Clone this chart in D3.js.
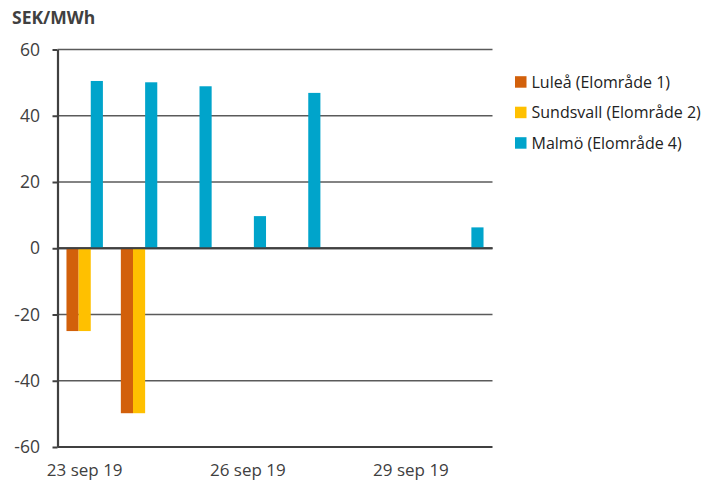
<!DOCTYPE html>
<html>
<head>
<meta charset="utf-8">
<script src="https://cdn.jsdelivr.net/npm/d3@7/dist/d3.min.js"></script>
<style>
  html, body { margin: 0; padding: 0; background: #ffffff; }
  svg { display: block; font-family: "Open Sans", "Liberation Sans", sans-serif; }
</style>
</head>
<body>
<svg id="chart" width="710" height="484"></svg>
<script>
// Daily price differences, SEK/MWh, week of 23–30 Sep 2019
const days = ["23 sep 19", "24 sep 19", "25 sep 19", "26 sep 19",
              "27 sep 19", "28 sep 19", "29 sep 19", "30 sep 19"];
const dayTicks = ["23 sep 19", "26 sep 19", "29 sep 19"];
const seriesNames = ["Luleå (Elområde 1)", "Sundsvall (Elområde 2)", "Malmö (Elområde 4)"];
const lulea     = [-25, -49.8, 0, 0, 0, 0, 0, 0];
const sundsvall = [-25, -49.8, 0, 0, 0, 0, 0, 0];
const malmo     = [50.5, 50.1, 48.9, 9.7, 46.9, 0, 0, 6.3];
const yTicks = [60, 40, 20, 0, -20, -40, -60];
const unitLabel = "SEK/MWh";

const seriesValues = [lulea, sundsvall, malmo];
const colors = ["#D2600B", "#FFC000", "#00A4CB"];
const textColor = "#404040";

const svg = d3.select("#chart");
const plot = { left: 57.5, right: 492.5, top: 49.5, bottom: 447 };

const x0 = d3.scaleBand()
  .domain(days)
  .range([plot.left, plot.right])
  .paddingInner(0.33)
  .paddingOuter(0.165);

const x1 = d3.scaleBand()
  .domain(seriesNames)
  .range([0, x0.bandwidth()]);

const y = d3.scaleLinear()
  .domain([-60, 60])
  .range([plot.bottom, plot.top]);

const color = d3.scaleOrdinal().domain(seriesNames).range(colors);

// horizontal gridlines
svg.append("g")
  .selectAll("line")
  .data(yTicks)
  .join("line")
  .attr("x1", plot.left)
  .attr("x2", plot.right)
  .attr("y1", d => y(d))
  .attr("y2", d => y(d))
  .attr("stroke", d => (d === 0 || d === -60) ? "#404040" : "#5a5a5a")
  .attr("stroke-width", d => (d === 0 || d === -60) ? 2.2 : 1.3);

// bars
const rows = days.map((day, i) => ({
  day,
  values: seriesNames.map((name, s) => ({ name, value: seriesValues[s][i] }))
}));

svg.append("g")
  .selectAll("g")
  .data(rows)
  .join("g")
  .attr("transform", d => `translate(${x0(d.day)},0)`)
  .selectAll("rect")
  .data(d => d.values.filter(v => v.value !== 0))
  .join("rect")
  .attr("x", d => x1(d.name))
  .attr("width", x1.bandwidth())
  .attr("y", d => y(Math.max(0, d.value)))
  .attr("height", d => Math.abs(y(d.value) - y(0)))
  .attr("fill", d => color(d.name));

// zero line drawn over the bars
svg.append("line")
  .attr("x1", plot.left).attr("x2", plot.right)
  .attr("y1", y(0)).attr("y2", y(0))
  .attr("stroke", "#404040").attr("stroke-width", 2.2);

// y axis
const yAxis = svg.append("g")
  .attr("transform", `translate(${plot.left},0)`)
  .call(d3.axisLeft(y).tickValues(yTicks).tickSize(5).tickSizeOuter(0).tickPadding(12.5)
        .tickFormat(d => String(d)));
yAxis.select(".domain").attr("stroke", "#404040").attr("stroke-width", 2.2);
yAxis.selectAll(".tick line").attr("stroke", "#404040").attr("stroke-width", 2);
yAxis.selectAll(".tick text")
  .attr("fill", textColor)
  .style("font-size", "17.5px")
  .style("font-family", "'Open Sans', sans-serif");

// x axis labels
const xAxis = svg.append("g")
  .attr("transform", `translate(0,${plot.bottom})`)
  .call(d3.axisBottom(x0).tickValues(dayTicks).tickSize(0).tickPadding(17));
xAxis.select(".domain").remove();
xAxis.selectAll(".tick text")
  .attr("fill", textColor)
  .style("font-size", "17px")
  .style("font-family", "'Open Sans', sans-serif");

// unit label
svg.append("text")
  .attr("x", 12)
  .attr("y", 23.5)
  .attr("fill", textColor)
  .style("font-size", "17.5px")
  .style("font-weight", "bold")
  .text(unitLabel);

// legend
const legend = svg.append("g")
  .attr("transform", "translate(515,82)")
  .selectAll("g")
  .data(seriesNames)
  .join("g")
  .attr("transform", (d, i) => `translate(0,${i * 30.5})`);

legend.append("rect")
  .attr("x", 0).attr("y", -5.8)
  .attr("width", 11.5).attr("height", 11.5)
  .attr("fill", d => color(d));

legend.append("text")
  .attr("x", 16.5)
  .attr("y", 0)
  .attr("dy", "0.36em")
  .attr("fill", "#222222")
  .style("font-size", "16px")
  .text(d => d);
</script>
</body>
</html>
